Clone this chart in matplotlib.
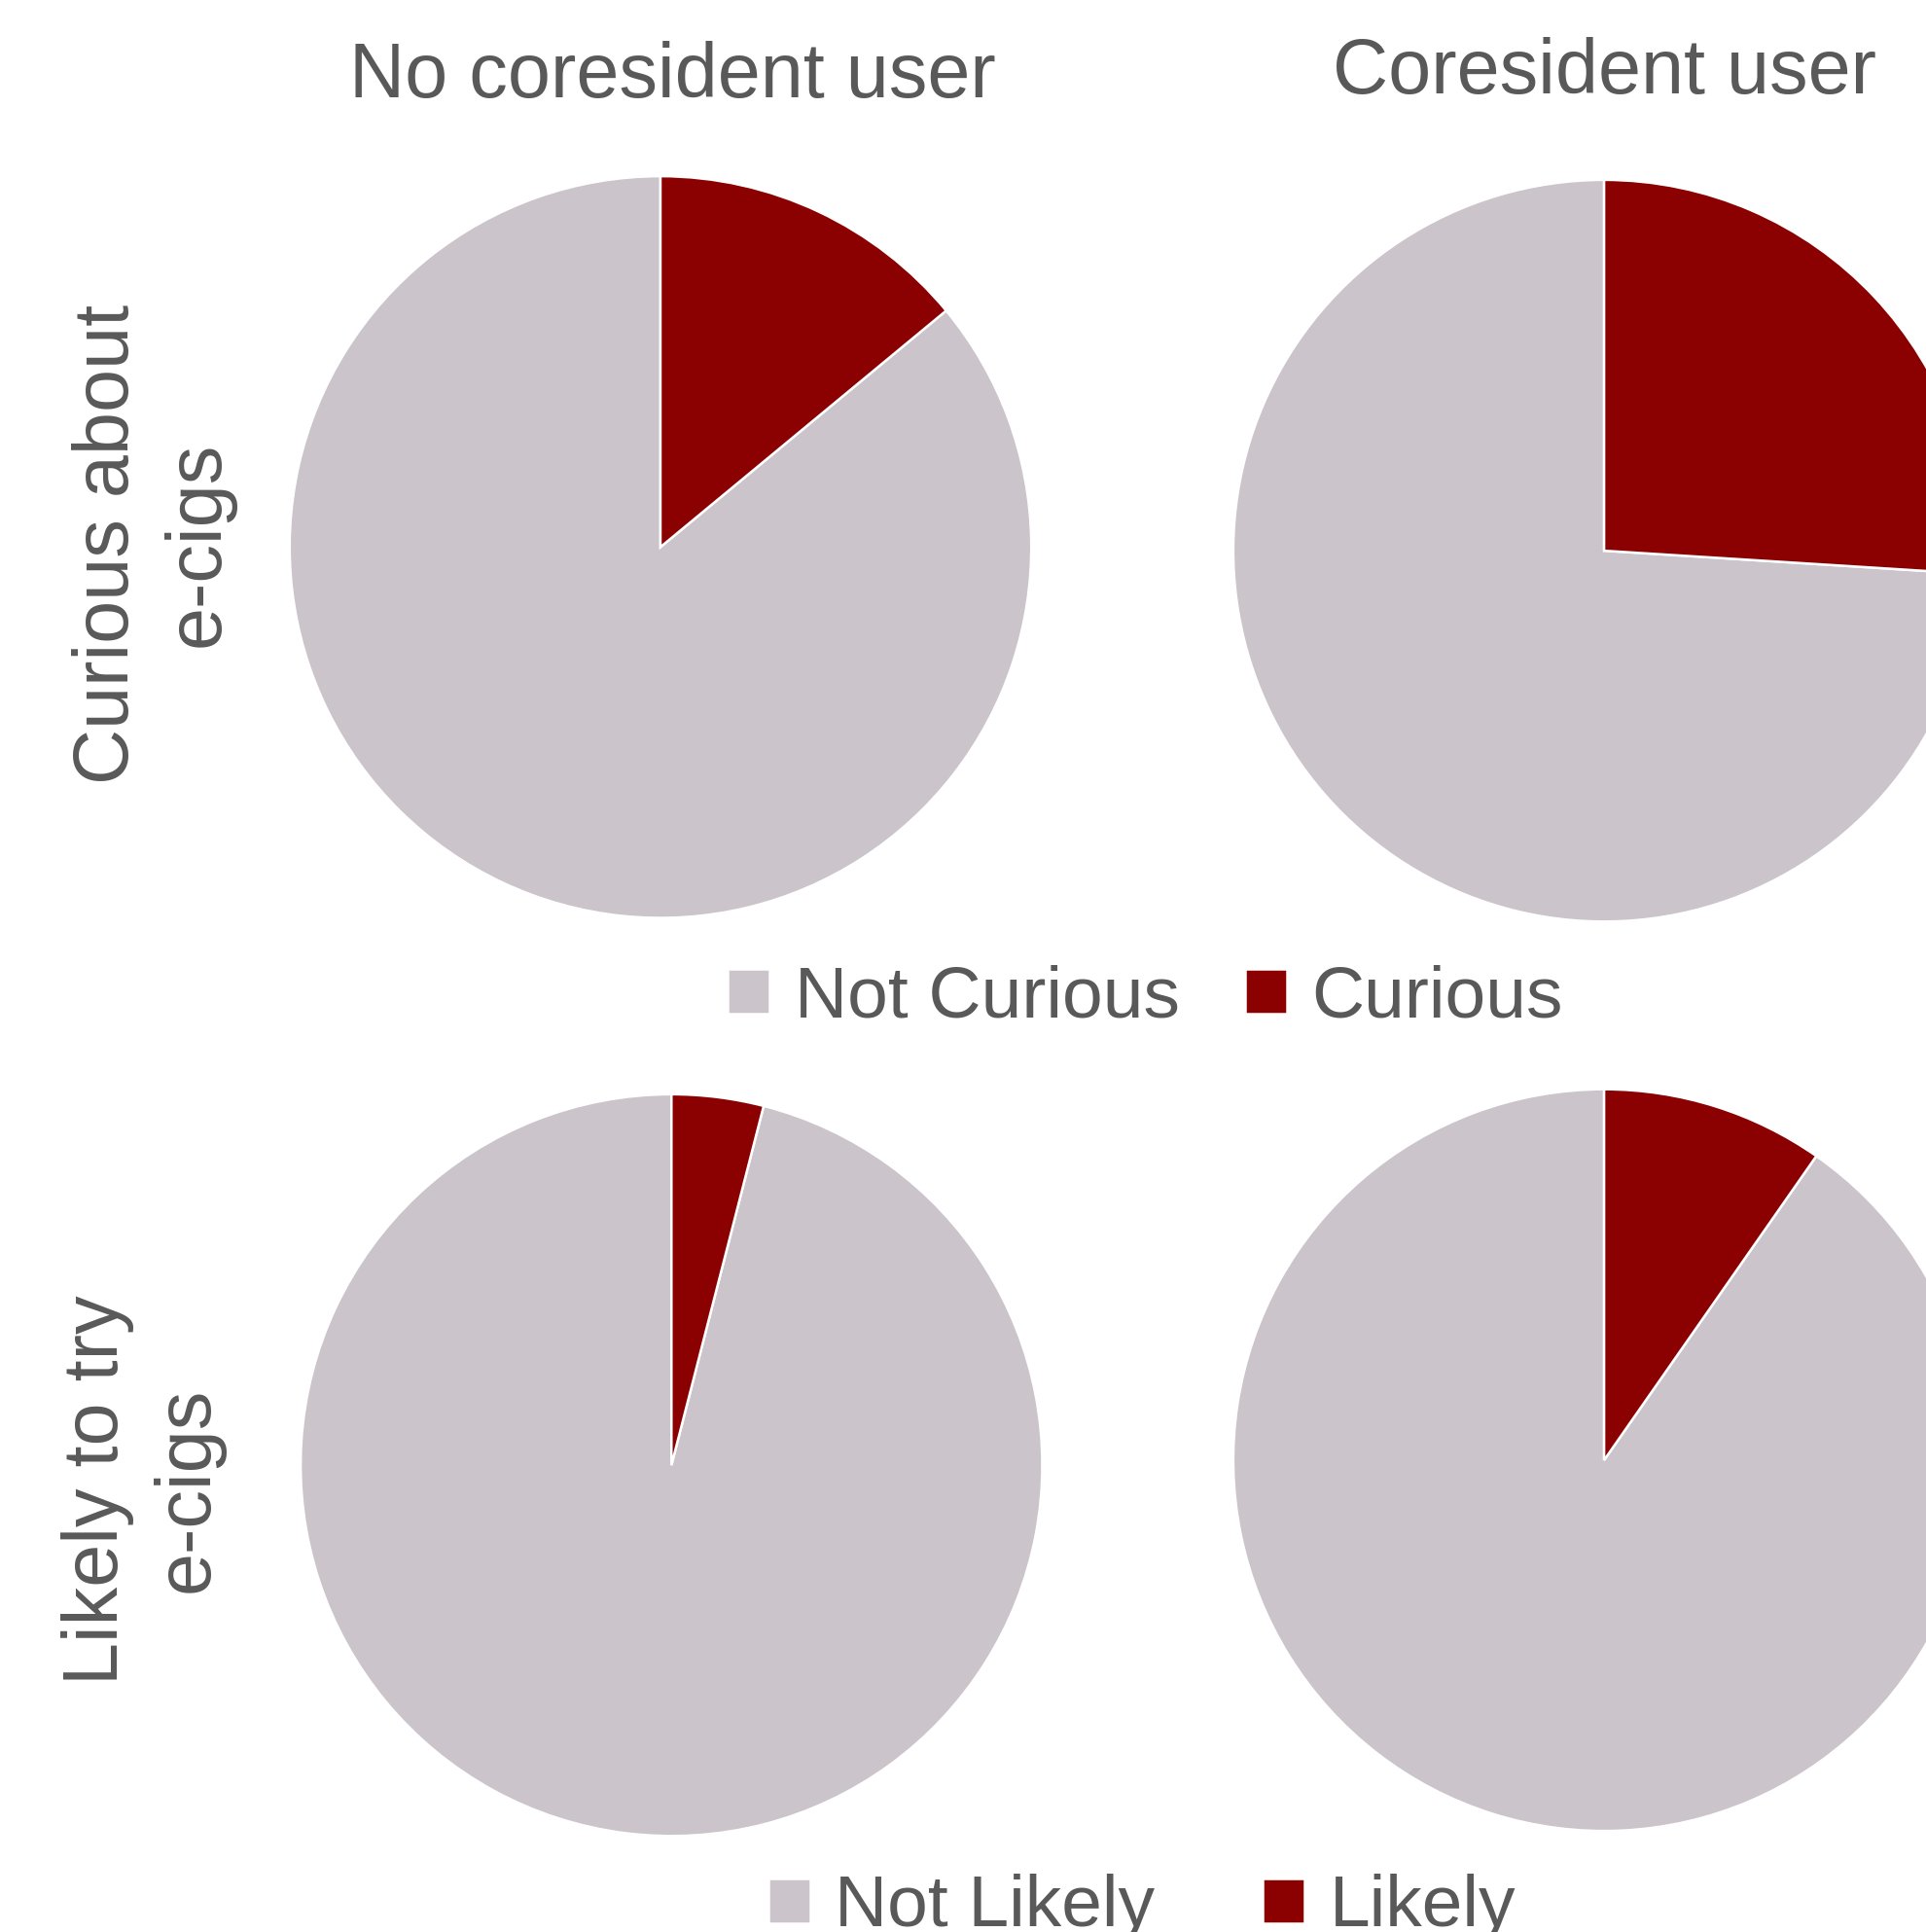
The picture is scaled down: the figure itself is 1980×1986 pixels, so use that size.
import matplotlib.pyplot as plt

plt.rcParams['font.family'] = ['Liberation Sans', 'DejaVu Sans']

TEXT_COLOR = '#595959'
GREY = '#CBC4CA'
RED = '#8B0000'

col_titles = ['No coresident user', 'Coresident user']
row_titles = ['Curious about\ne-cigs', 'Likely to try\ne-cigs']

curious_labels = ['Not Curious', 'Curious']
curious_no_user = [86.0, 14.0]
curious_user = [74.0, 26.0]

likely_labels = ['Not Likely', 'Likely']
likely_no_user = [96.0, 4.0]
likely_user = [90.3, 9.7]


def draw_pie(fig, rect, values):
    ax = fig.add_axes(rect)
    wedges, _ = ax.pie(values, colors=[GREY, RED], startangle=90, counterclock=True,
                       radius=1, wedgeprops={'edgecolor': 'white', 'linewidth': 1.8})
    ax.set_xlim(-1, 1)
    ax.set_ylim(-1, 1)
    ax.set_aspect('equal')
    ax.axis('off')
    return wedges


fig = plt.figure(figsize=(19.81, 19.86), dpi=100)

w = draw_pie(fig, [0.1503, 0.5249, 0.3849, 0.3839], curious_no_user)
draw_pie(fig, [0.6400, 0.5230, 0.3849, 0.3839], curious_user)
w2 = draw_pie(fig, [0.1560, 0.0497, 0.3849, 0.3839], likely_no_user)
draw_pie(fig, [0.6400, 0.0523, 0.3849, 0.3839], likely_user)

fig.text(0.349, 0.9600, col_titles[0], ha='center', va='center', fontsize=57, color=TEXT_COLOR)
fig.text(0.8325, 0.9620, col_titles[1], ha='center', va='center', fontsize=57, color=TEXT_COLOR)

fig.text(0.0795, 0.7185, row_titles[0], ha='center', va='center', rotation=90,
         fontsize=57, color=TEXT_COLOR, linespacing=1.3)
fig.text(0.0740, 0.229, row_titles[1], ha='center', va='center', rotation=90,
         fontsize=57, color=TEXT_COLOR, linespacing=1.3)

fig.legend(w, curious_labels, loc='center', bbox_to_anchor=(0.5945, 0.4832), ncol=2,
           frameon=False, fontsize=54, labelcolor=TEXT_COLOR, handlelength=0.57,
           handleheight=0.57, handletextpad=0.34, columnspacing=0.9)
fig.legend(w2, likely_labels, loc='center', bbox_to_anchor=(0.5927, 0.0126), ncol=2,
           frameon=False, fontsize=54, labelcolor=TEXT_COLOR, handlelength=0.57,
           handleheight=0.57, handletextpad=0.34, columnspacing=1.48)

fig.savefig('out.png', dpi=100)
